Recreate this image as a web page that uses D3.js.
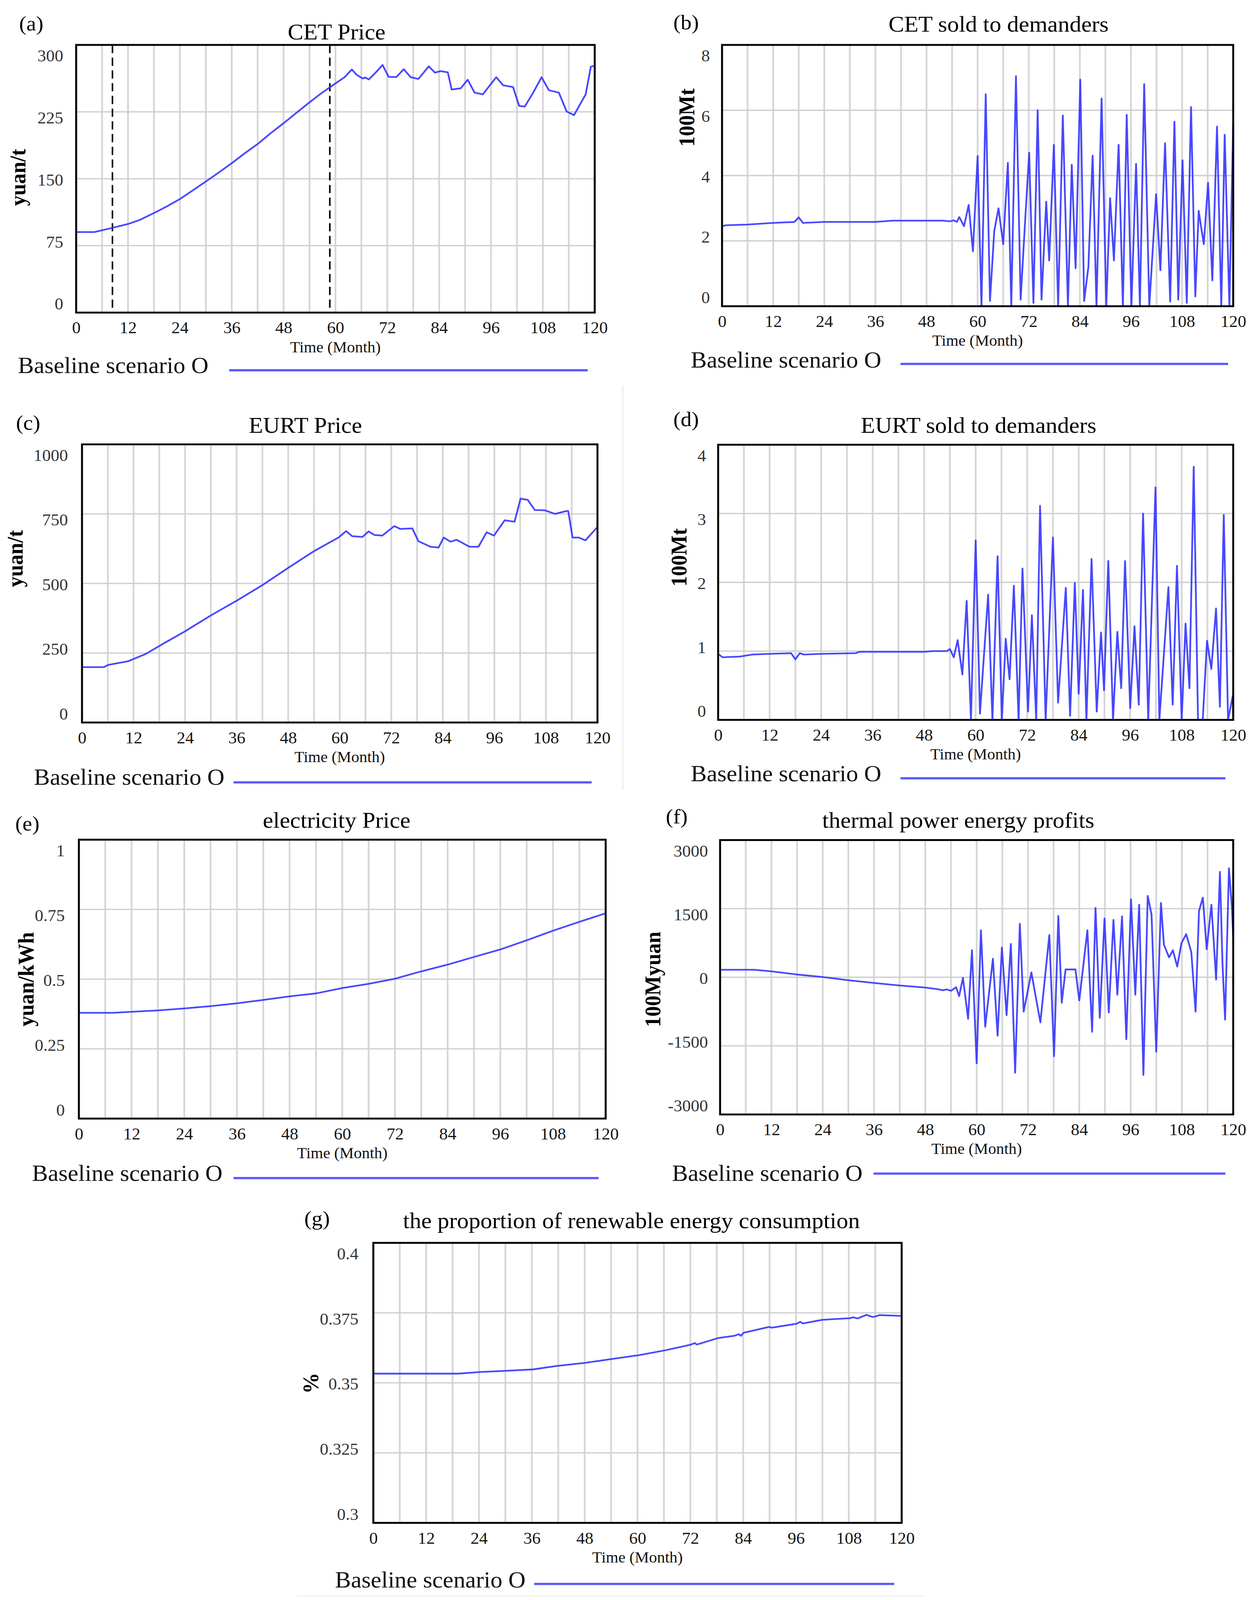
<!DOCTYPE html>
<html><head><meta charset="utf-8">
<script src="https://cdn.jsdelivr.net/npm/d3@7"></script>
<style>html,body{margin:0;padding:0;background:#fff;overflow:hidden;width:100%;height:100%}svg{display:block;width:100vw;height:100vh}</style>
</head><body>
<svg id="chart" viewBox="0 0 3201 4274" preserveAspectRatio="none"></svg>
<script>
// ---------- data ----------
const xTickValues = [0,12,24,36,48,60,72,84,96,108,120];
const xGridValues = d3.range(6,120,6);

const cetPriceTicks = [0,75,150,225,300];
const cetSoldTicks = [0,2,4,6,8];
const eurtPriceTicks = [0,250,500,750,1000];
const eurtSoldTicks = [0,1,2,3,4];
const elecPriceTicks = [0,0.25,0.5,0.75,1];
const profitTicks = [-3000,-1500,0,1500,3000];
const renewTicks = [0.3,0.325,0.35,0.375,0.4];

const cetPriceDashedMonths = [8.4, 58.7];

const cetPrice = [[0,90.2],[4.2,90.2],[8.4,95],[12,99.3],[14.8,104],[18,111.6],[21,119],[24.1,127.5],[27,137],[30.1,147.2],[33,157],[36.1,167.8],[39,178.5],[42.2,189.7],[45,201],[48.2,213],[51,224],[54.2,236.4],[56.5,245],[58.8,252.8],[60.5,258.5],[62.1,263.8],[63.8,272.5],[64.9,266.5],[66.3,262.4],[66.9,263.5],[67.7,261.3],[69.5,270],[70.9,277.5],[72.3,264.3],[74.1,264],[75.8,272.8],[77.4,263.8],[79.2,261.9],[81.6,276],[83,269],[84.3,270.6],[86,269.3],[86.9,250],[89,251.4],[90.6,261],[92.2,246.5],[94.1,244.6],[97.2,263.8],[98.8,254.7],[101.1,252.8],[102.5,231.7],[103.8,230.9],[105.7,246],[107.7,263.8],[109.4,249.2],[111.7,246.5],[113.5,225.4],[115.2,221.3],[117.9,244.6],[119.1,275.6],[120,276.7]];

const cetSold = [[0,2.45],[1,2.48],[6,2.5],[12,2.55],[17,2.58],[18,2.72],[19,2.55],[24,2.58],[36,2.58],[40,2.62],[52,2.62],[53.5,2.6],[54.4,2.63],[55.1,2.58],[55.7,2.73],[56.8,2.45],[57.9,3.1],[58.9,1.68],[60,4.6],[60.9,0],[61.9,6.49],[62.9,0.16],[63.9,2.3],[64.9,3.0],[66,1.9],[67.1,4.39],[67.9,0],[69,7.04],[70.1,0.2],[71.1,2.5],[72.1,4.7],[73.1,0.1],[74.1,6.0],[75,0.2],[76.1,3.2],[76.8,1.4],[77.9,4.94],[78.9,0],[80,5.84],[81.2,0],[82.1,4.33],[83,1.16],[84.1,6.94],[85,0.16],[86,1.2],[87,4.61],[87.9,0],[89.1,6.36],[90.2,0],[91.1,3.31],[92,1.4],[93.1,4.94],[94.1,0],[95,5.86],[96.1,0],[97.2,4.36],[98.1,0],[99.1,6.8],[100.3,0],[101.9,3.43],[102.9,1.1],[104,4.99],[105.2,0.14],[106.2,5.65],[107.1,0.2],[108.1,4.47],[109.1,0.1],[110.1,6.1],[111.1,0.3],[111.9,2.92],[112.5,2.4],[113.1,1.9],[114.1,3.78],[115.1,0.79],[116.2,5.5],[117.2,0],[118,5.25],[119.1,0],[120,5.6]];

const eurtPrice = [[0,199],[5.1,199],[6.1,207],[10.7,220],[14.9,247],[19.1,285],[24,328],[30,385],[35.9,437],[42,494],[48,556],[54.1,617],[59.7,665],[61.5,688],[62.9,670],[65.3,667],[66.7,687],[68.1,674],[69.9,672],[72.7,706],[74.1,696],[76.9,698],[78.3,652],[81.1,632],[83,629],[84.2,665],[85.8,650],[87.2,657],[90.2,632],[92.3,632],[94.2,684],[95.9,672],[98.4,727],[100.7,722],[102.1,805],[103.8,800],[105.4,764],[107.7,763],[110.1,750],[112.7,760],[113.2,760],[114.2,665],[115.6,665],[117.2,655],[120,703]];

const eurtSold = [[0,0.96],[1,0.91],[5,0.92],[8,0.95],[12,0.96],[17,0.97],[18,0.88],[19,0.97],[20,0.95],[24,0.96],[32,0.97],[33,0.99],[48,0.99],[50,1.0],[53.3,1.0],[54,1.03],[54.9,0.91],[55.8,1.16],[56.9,0.66],[57.9,1.73],[58.9,0],[60,2.61],[61,0.09],[62.9,1.82],[63.9,0],[65.1,2.38],[66.1,0],[67,1.18],[67.9,0.59],[68.9,1.95],[70,0],[70.9,2.2],[72.2,0.12],[73.1,1.52],[74.1,0],[75,3.11],[76.3,0],[78,2.65],[79.2,0.25],[81,1.92],[82,0.06],[83.1,1.99],[84,0.38],[85,1.89],[85.8,0],[87,2.34],[88.2,0.12],[89.2,1.27],[89.9,0.43],[90.9,2.31],[92,0],[93,1.28],[93.9,0.46],[94.8,2.31],[96,0.17],[97,1.36],[98,0.22],[99,3.0],[100.2,0],[101.9,3.38],[102.8,0],[103.9,1.0],[104.9,1.93],[105.9,0.22],[106.9,2.24],[108,0],[108.9,1.4],[109.8,0.46],[110.8,3.68],[111.8,0],[112.9,0],[113.9,1.15],[114.9,0.74],[116,1.62],[116.9,0.19],[117.8,2.98],[118.8,0],[119.9,0.35],[120,0.1]];

const elecPrice = [[0,0.379],[7.6,0.379],[12.1,0.383],[18.1,0.388],[24,0.395],[29.9,0.403],[35.9,0.413],[41.8,0.425],[47.9,0.438],[54.1,0.449],[60,0.468],[66,0.483],[71.9,0.501],[77.8,0.527],[84,0.552],[90.1,0.58],[96.1,0.607],[102,0.639],[107.9,0.673],[113.9,0.705],[119.8,0.735],[120,0.736]];

const thermalProfit = [[0,164],[8,164],[12,130],[18,60],[24,5],[30,-65],[36,-125],[42,-180],[48,-225],[51.2,-265],[52.1,-284],[53,-265],[54,-296],[55.2,-218],[55.9,-413],[56.8,-12],[58,-908],[58.9,592],[60,-1882],[61,1029],[62,-1083],[63.8,405],[64.9,-1278],[65.9,651],[67,-830],[68,729],[69,-2088],[70.1,1169],[71,-752],[72.8,105],[74.9,-986],[77,923],[78.1,-1726],[79.1,1340],[79.9,-557],[80.8,171],[83.1,171],[84,-506],[85.9,1029],[87,-1192],[87.8,1515],[88.8,-888],[89.9,1286],[90.9,-771],[92,1254],[92.9,-382],[94,1332],[95,-1356],[96.1,1703],[97.1,-382],[98,1586],[99,-2135],[100,1780],[100.9,1371],[102,-1628],[103.1,1625],[103.8,709],[105,436],[105.9,592],[106.9,234],[107.9,748],[109,943],[110.2,553],[111.2,-752],[112,1449],[112.9,1742],[113.8,612],[114.9,1586],[116,-51],[116.9,2306],[117.5,280],[118.1,-927],[119,2384],[119.7,1527],[120,865]];

const renewShare = [[0,0.3533],[19.3,0.3533],[24.6,0.3539],[30,0.3543],[36.2,0.3548],[41.5,0.356],[48.3,0.3572],[54.1,0.3585],[60.4,0.3599],[66.2,0.3616],[72,0.3636],[73,0.3642],[73.5,0.3637],[78.3,0.366],[82,0.3668],[83,0.3674],[83.5,0.3668],[84.1,0.3679],[89.9,0.37],[90.5,0.3697],[96.1,0.3711],[97,0.3718],[97.5,0.3712],[101.9,0.3725],[104,0.3727],[108.2,0.3731],[109,0.3734],[110,0.373],[112,0.3743],[113.5,0.3735],[115,0.3742],[120,0.3739]];

const panelTitles = ['CET Price','CET sold to demanders','EURT Price','EURT sold to demanders','electricity Price','thermal power energy profits','the proportion of renewable energy consumption'];
const panelUnits = ['yuan/t','100Mt','yuan/t','100Mt','yuan/kWh','100Myuan','%'];
const panelLetters = ['(a)','(b)','(c)','(d)','(e)','(f)','(g)'];
const legendLabel = 'Baseline scenario O';
const xAxisLabel = 'Time (Month)';

// ---------- layout (positions only) ----------
const layout = [
  {frame:[195,120,1523,835],   yLabX:162,  titlePos:[862,85],    letterPos:[80,62],     unitPos:[46,474],   legText:[46,976],   legLine:[587,1505,989]},
  {frame:[1849,120,3158,818],  yLabX:1818, titlePos:[2557,65],   letterPos:[1757,59],   unitPos:[1759,314], legText:[1769,962], legLine:[2306,3145,972]},
  {frame:[210,1187,1530,1930], yLabX:174,  titlePos:[782,1136],  letterPos:[72,1129],   unitPos:[39,1492],  legText:[87,2076],  legLine:[598,1515,2090]},
  {frame:[1839,1188,3158,1923],yLabX:1808, titlePos:[2506,1136], letterPos:[1757,1120], unitPos:[1739,1489],legText:[1769,2066],legLine:[2306,3138,2079]},
  {frame:[202,2243,1551,2988], yLabX:166,  titlePos:[862,2191],  letterPos:[70,2200],   unitPos:[67,2616],  legText:[82,3134],  legLine:[598,1533,3147]},
  {frame:[1844,2244,3158,2977],yLabX:1813, titlePos:[2454,2191], letterPos:[1733,2181], unitPos:[1672,2616],legText:[1721,3134],legLine:[2237,3138,3135]},
  {frame:[956,3320,2309,4068], yLabX:918,  titlePos:[1617,3261], letterPos:[812,3254],  unitPos:[796,3695], legText:[858,4220], legLine:[1368,2290,4231]}
];

const panels = [
  {data:cetPrice, ticks:cetPriceTicks, dashed:cetPriceDashedMonths},
  {data:cetSold, ticks:cetSoldTicks},
  {data:eurtPrice, ticks:eurtPriceTicks},
  {data:eurtSold, ticks:eurtSoldTicks},
  {data:elecPrice, ticks:elecPriceTicks},
  {data:thermalProfit, ticks:profitTicks},
  {data:renewShare, ticks:renewTicks}
].map((p,i)=>Object.assign({}, layout[i], p, {title:panelTitles[i], unit:panelUnits[i], letter:panelLetters[i]}));

// ---------- styles ----------
const serif = '"Liberation Serif","Times New Roman",serif';
const lineBlue = '#3434ff';
const legendBlue = '#5a5aff';

const svg = d3.select('#chart');
svg.append('rect').attr('width',3201).attr('height',4274).attr('fill','#fff');

// faint separators seen in the reference
svg.append('line').attr('x1',1595).attr('x2',1595).attr('y1',1030).attr('y2',2110).attr('stroke','#e2e2e2').attr('stroke-width',2);
svg.append('line').attr('x1',760).attr('x2',2367).attr('y1',4263).attr('y2',4263).attr('stroke','#ececec').attr('stroke-width',2);

panels.forEach((p,i)=>{
  const [L,T,R,B] = p.frame;
  const x = d3.scaleLinear().domain([0,120]).range([L,R]);
  const y = d3.scaleLinear().domain(d3.extent(p.ticks)).range([B,T]);
  const yLab = d3.scaleLinear().domain(d3.extent(p.ticks)).range([B-24,T+28]);
  const g = svg.append('g');
  const clipId = 'clip'+i;
  svg.append('clipPath').attr('id',clipId).append('rect')
    .attr('x',L).attr('y',T).attr('width',R-L).attr('height',B-T);

  g.selectAll('line.vg').data(xGridValues).join('line').attr('class','vg')
    .attr('x1',d=>x(d)).attr('x2',d=>x(d)).attr('y1',T).attr('y2',B)
    .attr('stroke','#d6d6d6').attr('stroke-width',4.5);
  g.selectAll('line.hg').data(p.ticks.slice(1,-1)).join('line').attr('class','hg')
    .attr('x1',L).attr('x2',R).attr('y1',d=>y(d)).attr('y2',d=>y(d))
    .attr('stroke','#cfcfcf').attr('stroke-width',3.5);

  if (p.dashed) {
    g.selectAll('line.dash').data(p.dashed).join('line').attr('class','dash')
      .attr('x1',d=>x(d)).attr('x2',d=>x(d)).attr('y1',T).attr('y2',B)
      .attr('stroke','#000').attr('stroke-width',4).attr('stroke-dasharray','22,12');
  }

  g.append('path').datum(p.data)
    .attr('clip-path',`url(#${clipId})`)
    .attr('d',d3.line().x(d=>x(d[0])).y(d=>y(d[1])))
    .attr('fill','none').attr('stroke',lineBlue).attr('stroke-width',4.5)
    .attr('stroke-linejoin','round').attr('stroke-opacity',0.9);

  g.append('rect').attr('x',L).attr('y',T).attr('width',R-L).attr('height',B-T)
    .attr('fill','none').attr('stroke','#000').attr('stroke-width',5);

  const xAxis = g.append('g').attr('transform',`translate(0,${B})`)
    .call(d3.axisBottom(x).tickValues(xTickValues).tickSize(0).tickFormat(d3.format('d')));
  xAxis.select('.domain').remove();
  xAxis.attr('font-family',serif).attr('font-size',44).attr('color','#151515');
  xAxis.selectAll('text').attr('y',40).attr('dy','0.35em');

  const yAxis = g.append('g').attr('transform',`translate(${L},0)`)
    .call(d3.axisLeft(yLab).tickValues(p.ticks).tickSize(0).tickFormat(d=>String(d)));
  yAxis.select('.domain').remove();
  yAxis.attr('font-family',serif).attr('font-size',44).attr('color','#333');
  yAxis.selectAll('text').attr('x',p.yLabX-L).attr('dy','0.35em');

  g.append('text').attr('x',(L+R)/2).attr('y',B+92).attr('text-anchor','middle')
    .attr('dominant-baseline','central').attr('font-family',serif).attr('font-size',41)
    .attr('fill','#111').text(xAxisLabel);

  g.append('text').attr('x',p.titlePos[0]).attr('y',p.titlePos[1]).attr('text-anchor','middle')
    .attr('dominant-baseline','central').attr('font-family',serif).attr('font-size',60)
    .attr('fill','#000').text(p.title);

  g.append('text').attr('x',p.letterPos[0]).attr('y',p.letterPos[1]).attr('text-anchor','middle')
    .attr('dominant-baseline','central').attr('font-family',serif).attr('font-size',56)
    .attr('fill','#000').text(p.letter);

  g.append('text').attr('transform',`translate(${p.unitPos[0]},${p.unitPos[1]}) rotate(-90)`)
    .attr('text-anchor','middle').attr('dominant-baseline','central')
    .attr('font-family',serif).attr('font-size',56).attr('font-weight','bold')
    .attr('fill','#000').text(p.unit);

  g.append('text').attr('x',p.legText[0]).attr('y',p.legText[1])
    .attr('dominant-baseline','central').attr('font-family',serif).attr('font-size',61)
    .attr('fill','#111').text(legendLabel);
  g.append('line').attr('x1',p.legLine[0]).attr('x2',p.legLine[1])
    .attr('y1',p.legLine[2]).attr('y2',p.legLine[2])
    .attr('stroke',legendBlue).attr('stroke-width',6);
});
</script>
</body></html>
